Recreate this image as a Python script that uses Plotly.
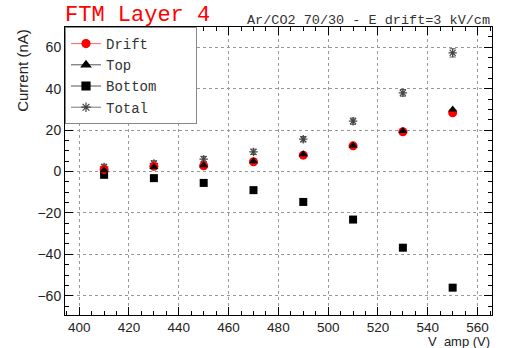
import plotly.graph_objects as go

v_amp = [410, 430, 450, 470, 490, 510, 530, 550]
drift = [1.0, 2.5, 2.8, 4.7, 7.9, 12.4, 19.2, 28.4]
top = [0.6, 2.2, 3.0, 5.0, 8.3, 12.6, 19.6, 30.0]
bottom = [-1.6, -3.2, -5.5, -9.0, -14.7, -23.2, -36.8, -56.1]
total = [2.2, 3.9, 6.0, 9.5, 15.6, 24.3, 38.0, 57.3]
total_err = [1.3, 1.3, 1.3, 1.3, 1.3, 1.5, 1.6, 2.0]

x_range = [394.3, 565.8]
y_range = [-69.3, 69.8]

fig = go.Figure()

# data traces
fig.add_trace(go.Scatter(x=v_amp, y=total, mode="markers", showlegend=False,
                         error_y=dict(type="data", array=total_err, color="#555555", thickness=1, width=3),
                         marker=dict(symbol="asterisk-open", size=7, color="#444444",
                                     line=dict(color="#444444", width=1.2))))
fig.add_trace(go.Scatter(x=v_amp, y=bottom, mode="markers", showlegend=False,
                         marker=dict(symbol="square", size=8, color="black")))
fig.add_trace(go.Scatter(x=v_amp, y=drift, mode="markers", showlegend=False,
                         marker=dict(symbol="circle", size=9, color="red")))
fig.add_trace(go.Scatter(x=v_amp, y=top, mode="markers", showlegend=False,
                         marker=dict(symbol="triangle-up", size=8, color="black")))

# legend entries
leg = [("Drift", "circle", "red", "#ff6666"),
       ("Top", "triangle-up", "black", "#555555"),
       ("Bottom", "square", "black", "#555555"),
       ("Total", "asterisk-open", "#444444", "#777777")]
for name, sym, col, lcol in leg:
    padded = name + "\u00a0" * (10 - len(name))
    fig.add_trace(go.Scatter(x=[None], y=[None], mode="lines+markers", name=padded,
                             line=dict(color=lcol, width=1),
                             marker=dict(symbol=sym, size=8, color=col,
                                         line=dict(color=col, width=1.2))))

mono = "Liberation Mono, Courier New, monospace"
sans = "Liberation Sans, Arial, sans-serif"

axis_common = dict(
    showline=True, linecolor="black", linewidth=1, mirror="allticks",
    ticks="inside", ticklen=8, tickcolor="black",
    showgrid=True, gridcolor="#999999", griddash="dot", gridwidth=1,
    zeroline=False,
    tickfont=dict(family=sans, size=14, color="#222222"),
    minor=dict(ticks="inside", ticklen=4, tickcolor="black", showgrid=False),
)

fig.update_xaxes(range=x_range, dtick=20, tick0=400, minor_dtick=5, ticklabelstandoff=0,
                 **{**axis_common, "tickfont": dict(family=sans, size=13.5, color="#222222")})
fig.update_yaxes(range=y_range, dtick=20, tick0=0, minor_dtick=5, **axis_common)

fig.update_layout(
    width=505, height=348,
    margin=dict(l=65, r=13, t=27, b=33),
    paper_bgcolor="white", plot_bgcolor="white",
    showlegend=True,
    legend=dict(x=0, y=1, xanchor="left", yanchor="top",
                bgcolor="white", bordercolor="#888888", borderwidth=1,
                font=dict(family=mono, size=14, color="#333333"),
                tracegroupgap=0),
    annotations=[
        dict(text="FTM Layer 4", xref="paper", yref="paper", x=-0.005, y=1.04,
             xanchor="left", yanchor="middle", showarrow=False,
             font=dict(family=mono, size=22, color="red")),
        dict(text="Ar/CO2 70/30 - E drift=3 kV/cm", xref="paper", yref="paper", x=1.0, y=1.024,
             xanchor="right", yanchor="middle", showarrow=False,
             font=dict(family=mono, size=13.5, color="#333333")),
        dict(text="Current (nA)", xref="paper", yref="paper", x=-0.1, y=1.0,
             xanchor="center", yanchor="top", textangle=-90, showarrow=False,
             font=dict(family=sans, size=15, color="#222222")),
        dict(text="V\u00a0 amp (V)", xref="paper", yref="paper", x=1.0, y=-0.0915,
             xanchor="right", yanchor="middle", showarrow=False,
             font=dict(family=sans, size=13, color="#222222")),
    ],
)

fig.write_html("out.html")
